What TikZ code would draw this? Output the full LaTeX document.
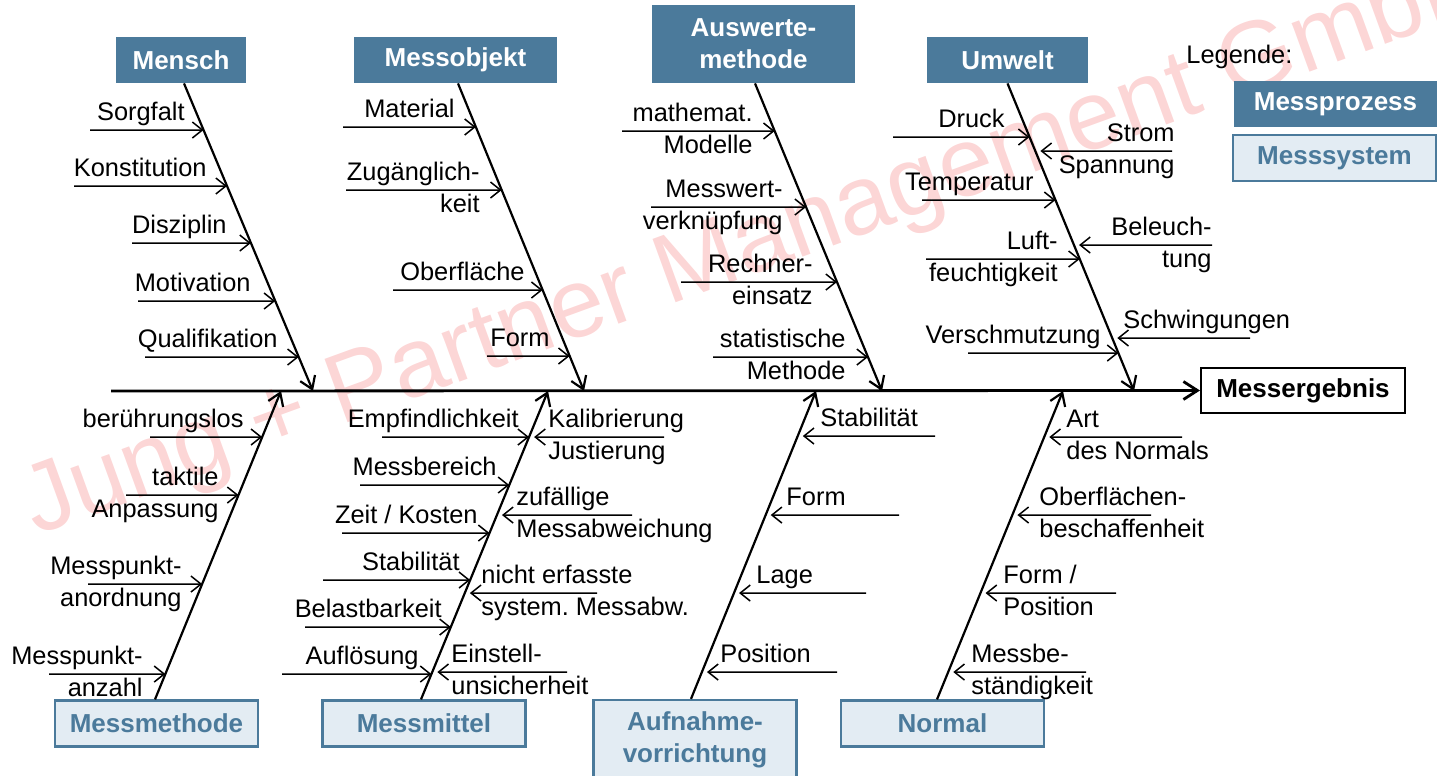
\documentclass[tikz,border=0pt]{standalone}
\usepackage{fontspec}
\setmainfont{Liberation Sans}
\usetikzlibrary{arrows.meta}
\definecolor{fishblue}{HTML}{4B7A9B}
\definecolor{fishlight}{HTML}{E3ECF3}
\definecolor{stamp}{HTML}{FCD6D6}
\frenchspacing
\begin{document}
\begin{tikzpicture}[x=0.5pt,y=-0.5pt,
	head/.style={font=\bfseries\fontsize{13}{16}\selectfont,align=center,inner sep=0pt,minimum width=101.5pt,minimum height=23pt},
	process/.style={head,fill=fishblue,text=white},
	system/.style={head,fill=fishlight,draw=fishblue,line width=1.1pt,text=fishblue},
	lbl/.style={font=\fontsize{12.7}{16}\selectfont,inner sep=0pt},
	lblL/.style={lbl,anchor=east,align=right},
	lblR/.style={lbl,anchor=west,align=left},
	spine/.style={line width=1.4pt,-{Straight Barb[length=7pt,width=9pt]}},
	bone/.style={line width=1.1pt,-{Straight Barb[length=6pt,width=8pt]}},
	cause/.style={line width=0.75pt,-{Straight Barb[length=5pt,width=8pt]}},
	causer/.style={cause,shorten >=2.5pt}]
	\useasboundingbox (0,0) rectangle (1437,776);
	\node[anchor=base west,rotate=20,inner sep=0pt,text=stamp,font=\fontsize{49}{52}\selectfont] (stamp) at (36,536) {Jung + Partner Management GmbH};

	\node[process,minimum width=65pt] (mensch) at (181,60) {Mensch};
	\node[process] (messobjekt) at (455.5,60) {Messobjekt};
	\node[process,minimum height=39pt] (auswertung) at (753.5,44) {Auswerte-\\methode};
	\node[process,minimum width=80.5pt] (umwelt) at (1007.5,60) {Umwelt};
	\node[system] (methode) at (156.5,723.5) {Messmethode};
	\node[system] (mittel) at (424,723.5) {Messmittel};
	\node[system,minimum height=40pt] (aufnahme) at (695,740) {Aufnahme-\\vorrichtung};
	\node[system] (normal) at (942.5,723.5) {Normal};
	\node[head,draw,line width=1pt,minimum width=102pt,minimum height=22.5pt] (ergebnis) at (1303,390.5) {Messergebnis};
	\node[lbl,anchor=base west] (legende) at (1186,63) {Legende:};
	\node[process] (prozess) at (1335.5,104) {Messprozess};
	\node[system] (messsystem) at (1334.5,158) {Messsystem};

	\coordinate (tail) at (111,391);
	\draw[spine] (tail) -- (ergebnis.west);
	\foreach \n/\x in {s1/313,s2/584,s3/882,s4/1134,t1/281,t2/548,t3/816,t4/1063}{
		\coordinate (\n) at (\x,391);
	}
	\coordinate (m1) at ([xshift=1.5pt]mensch.south);
	\coordinate (o1) at ([xshift=1.25pt]messobjekt.south);
	\coordinate (a1) at ([xshift=0.75pt]auswertung.south);
	\coordinate (u1) at (umwelt.south);
	\coordinate (b1) at ([xshift=-0.75pt]methode.north);
	\coordinate (b2) at ([xshift=-1.5pt]mittel.north);
	\coordinate (b3) at ([xshift=-2pt]aufnahme.north);
	\coordinate (b4) at ([xshift=-2.75pt]normal.north);
	\draw[bone] (m1) -- (s1);
	\draw[bone] (o1) -- (s2);
	\draw[bone] (a1) -- (s3);
	\draw[bone] (u1) -- (s4);
	\draw[bone] (b1) -- (t1);
	\draw[bone] (b2) -- (t2);
	\draw[bone] (b3) -- (t3);
	\draw[bone] (b4) -- (t4);

	\foreach \yy/\xs/\lx/\up/\lo in {130/90/185/Sorgfalt/,186/74/207/Konstitution/,243/132/227/Disziplin/,301/138/251/Motivation/,357/145/278/Qualifikation/}{
		\draw[cause] (\xs,\yy) coordinate (fm\yy) -- (intersection of m1--s1 and 0,\yy--1,\yy);
		\node[lblL] (lm\yy) at (\lx,\yy) {\strut\up\\\strut\lo};
	}
	\foreach \yy/\xs/\lx/\up/\lo in {127/343/455/Material/,190/346/480/Zugänglich-/keit,290/393/525/Oberfläche/,356/487/550/Form/}{
		\draw[cause] (\xs,\yy) coordinate (fo\yy) -- (intersection of o1--s2 and 0,\yy--1,\yy);
		\node[lblL] (lo\yy) at (\lx,\yy) {\strut\up\\\strut\lo};
	}
	\foreach \yy/\xs/\lx/\up/\lo in {131/622/753/mathemat./Modelle,207/651/783/Messwert-/verknüpfung,282/681/813/Rechner-/einsatz,357/713/846/statistische/Methode}{
		\draw[cause] (\xs,\yy) coordinate (fa\yy) -- (intersection of a1--s3 and 0,\yy--1,\yy);
		\node[lblL] (la\yy) at (\lx,\yy) {\strut\up\\\strut\lo};
	}
	\foreach \yy/\xs/\lx/\up/\lo in {137/893/1005/Druck/,200/922/1034/Temperatur/,259/926/1058/Luft-/feuchtigkeit,353/968/1101/Verschmutzung/}{
		\draw[cause] (\xs,\yy) coordinate (fu\yy) -- (intersection of u1--s4 and 0,\yy--1,\yy);
		\node[lblL] (lu\yy) at (\lx,\yy) {\strut\up\\\strut\lo};
	}
	\foreach \yy/\xs/\lx/\st/\up/\lo in {151/1172/1175/lblL/Strom/Spannung,245/1212/1212/lblL/Beleuch-/tung,338/1250/1123/lblR/Schwingungen/}{
		\draw[causer] (\xs,\yy) coordinate (fu\yy) -- (intersection of u1--s4 and 0,\yy--1,\yy);
		\node[\st] (lu\yy) at (\lx,\yy) {\strut\up\\\strut\lo};
	}

	\foreach \yy/\xs/\lx/\up/\lo in {437/150/244/berührungslos/,495/126/219/taktile/Anpassung,584/88/182/Messpunkt-/anordnung,674/49/143/Messpunkt-/anzahl}{
		\draw[cause] (\xs,\yy) coordinate (fb\yy) -- (intersection of b1--t1 and 0,\yy--1,\yy);
		\node[lblL] (lb\yy) at (\lx,\yy) {\strut\up\\\strut\lo};
	}
	\foreach \yy/\xs/\lx/\up/\lo in {437/382/519/Empfindlichkeit/,485/360/497/Messbereich/,533/342/478/{Zeit / Kosten}/,580/323/460/Stabilität/,627/305/442/Belastbarkeit/,674/282/419/Auflösung/}{
		\draw[cause] (\xs,\yy) coordinate (fi\yy) -- (intersection of b2--t2 and 0,\yy--1,\yy);
		\node[lblL] (li\yy) at (\lx,\yy) {\strut\up\\\strut\lo};
	}
	\foreach \yy/\xs/\lx/\up/\lo in {437/664/548/Kalibrierung/Justierung,515/632/516/zufällige/Messabweichung,593/597/481/nicht erfasste/system. Messabw.,672/567/451/Einstell-/unsicherheit}{
		\draw[causer] (\xs,\yy) coordinate (gi\yy) -- (intersection of b2--t2 and 0,\yy--1,\yy);
		\node[lblR] (ki\yy) at (\lx,\yy) {\strut\up\\\strut\lo};
	}
	\foreach \yy/\xs/\lx/\up/\lo in {436/935/820/Stabilität/,515/899/786/Form/,593/866/756/Lage/,672/837/720/Position/}{
		\draw[causer] (\xs,\yy) coordinate (fv\yy) -- (intersection of b3--t3 and 0,\yy--1,\yy);
		\node[lblR] (lv\yy) at (\lx,\yy) {\strut\up\\\strut\lo};
	}
	\foreach \yy/\xs/\lx/\up/\lo in {437/1182/1066/Art/des Normals,515/1151/1039/Oberflächen-/beschaffenheit,593/1116/1003/{Form /}/Position,672/1086/971/Messbe-/ständigkeit}{
		\draw[causer] (\xs,\yy) coordinate (fn\yy) -- (intersection of b4--t4 and 0,\yy--1,\yy);
		\node[lblR] (ln\yy) at (\lx,\yy) {\strut\up\\\strut\lo};
	}
\end{tikzpicture}
\end{document}
